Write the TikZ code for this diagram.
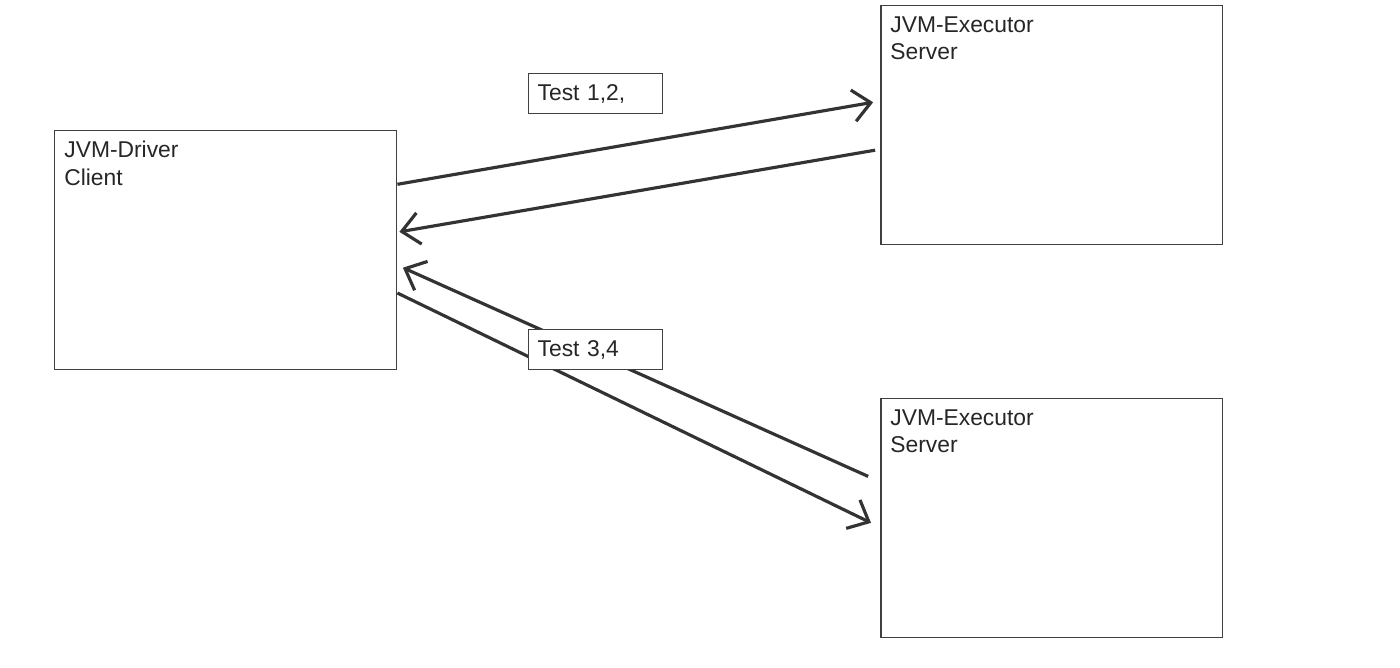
\documentclass[tikz,border=0pt]{standalone}
\usepackage{fontspec}
\setmainfont{Liberation Sans}
\usetikzlibrary{arrows.meta}

\begin{document}
\begin{tikzpicture}[x=0.02cm,y=-0.02cm,
    font=\fontsize{13}{15.9}\selectfont,
    box/.style={draw=black!75,line width=0.85pt,minimum width=6.84cm,minimum height=4.78cm,anchor=north west,inner sep=0pt},
    boxtext/.style={anchor=north west,align=left,inner xsep=0.2cm,inner ysep=0.22cm,text=black!85},
    tag/.style={draw=black!75,fill=white,line width=0.7pt,anchor=north west,minimum height=0.8cm,text width=2.32cm,inner xsep=0.18cm,align=left,text=black!85},
    link/.style={draw=black!80,line width=1.8pt,-{Straight Barb[length=10pt,width=18pt,line width=1.8pt]}}]
  \useasboundingbox (0,0) rectangle (1400,668);
  \node[box,label={[boxtext]north west:JVM-Driver\\Client}] (client) at (54,130) {};
  \node[box,label={[boxtext]north west:JVM-Executor\\Server}] (exectop) at (880,5) {};
  \node[box,label={[boxtext]north west:JVM-Executor\\Server}] (execbot) at (880,398) {};
  \draw[link,shorten >=0.14cm] (client.21) -- (exectop.172);
  \draw[link,shorten <=0.1cm,shorten >=0.04cm] (exectop.188) -- (client.6);
  \draw[link,shorten <=0.26cm,shorten >=0.12cm] (execbot.168) -- (client.-5);
  \draw[link,shorten >=0.2cm] (client.-14) -- (execbot.183);
  \node[tag] (test12) at (528,73) {Test 1,2,};
  \node[tag] (test34) at (528,329) {Test 3,4};
\end{tikzpicture}
\end{document}
